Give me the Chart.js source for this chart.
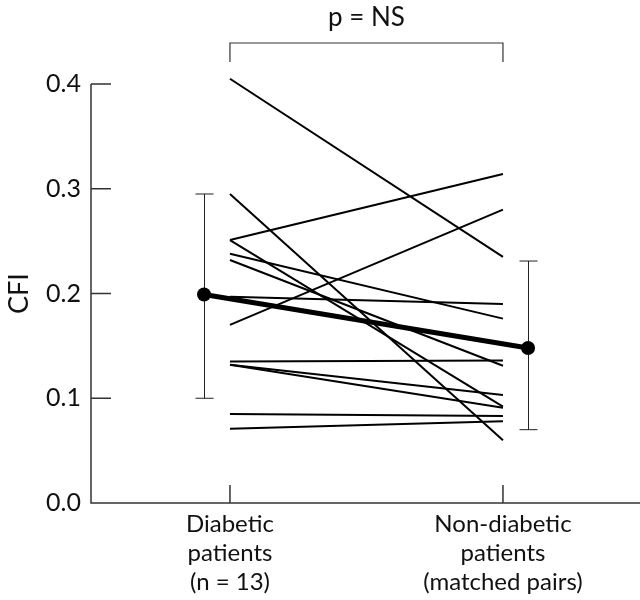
<!DOCTYPE html>
<html lang="en">
<head>
    <meta charset="UTF-8">
    <title>CFI diabetic vs non-diabetic</title>
    <script src="https://cdn.jsdelivr.net/npm/chart.js"></script>
    <style>
        body { margin: 0; background: #fff; }
        canvas { display: block; }
    </style>
</head>
<body>
    <canvas id="cfiChart" width="640" height="600"></canvas>

    <script>
        // values, one pair per patient
        const groupLabels = [["Diabetic", "patients", "(n = 13)"], ["Non-diabetic", "patients", "(matched pairs)"]];
        const diabeticCFI    = [0.405, 0.295, 0.251, 0.251, 0.238, 0.232, 0.197, 0.170, 0.135, 0.132, 0.132, 0.085, 0.071];
        const nonDiabeticCFI = [0.235, 0.060, 0.314, 0.092, 0.176, 0.131, 0.190, 0.280, 0.136, 0.103, 0.091, 0.083, 0.078];
        const meanCFI = [0.199, 0.148];
        const sdLow   = [0.100, 0.070];
        const sdHigh  = [0.295, 0.231];
        const yTicks  = [0.0, 0.1, 0.2, 0.3, 0.4];
        const groupX  = [0, 1];
        const meanX   = [-0.095, 1.092];
        const pLabel  = "p = NS";

        const FONT = "Lato, 'DejaVu Sans', sans-serif";

        const datasets = diabeticCFI.map((v, i) => ({
            data: [{ x: groupX[0], y: v }, { x: groupX[1], y: nonDiabeticCFI[i] }],
            borderColor: "#000",
            borderWidth: 2,
            pointRadius: 0,
            clip: false
        }));

        datasets.push({
            data: [{ x: meanX[0], y: meanCFI[0] }, { x: meanX[1], y: meanCFI[1] }],
            borderColor: "#000",
            backgroundColor: "#000",
            borderWidth: 5,
            pointRadius: 7,
            pointBorderWidth: 0,
            clip: false
        });

        // axes, ticks, error bars and text drawn with the chart's scales
        const decorations = {
            id: "decorations",
            beforeDatasetsDraw(chart) {
                const { ctx, scales: { x, y } } = chart;
                ctx.save();
                ctx.strokeStyle = "#222";
                ctx.lineWidth = 1;
                meanX.forEach((mx, i) => {
                    const px = Math.round(x.getPixelForValue(mx)) + 0.5;
                    const top = y.getPixelForValue(sdHigh[i]);
                    const bot = y.getPixelForValue(sdLow[i]);
                    ctx.beginPath();
                    ctx.moveTo(px, top); ctx.lineTo(px, bot);
                    ctx.moveTo(px - 9, top); ctx.lineTo(px + 9, top);
                    ctx.moveTo(px - 9, bot); ctx.lineTo(px + 9, bot);
                    ctx.stroke();
                });
                ctx.restore();
            },
            afterDraw(chart) {
                const { ctx, chartArea, scales: { x, y } } = chart;
                const x0 = chartArea.left;
                const y0 = y.getPixelForValue(0);
                ctx.save();
                ctx.strokeStyle = "#333";
                ctx.lineWidth = 1.5;
                ctx.beginPath();
                ctx.moveTo(x0, y.getPixelForValue(yTicks[yTicks.length - 1]));
                ctx.lineTo(x0, y0);
                ctx.lineTo(chart.width, y0);
                yTicks.forEach(t => {
                    const py = y.getPixelForValue(t);
                    ctx.moveTo(x0, py); ctx.lineTo(x0 + 20, py);
                });
                groupX.forEach(g => {
                    const px = x.getPixelForValue(g);
                    ctx.moveTo(px, y0); ctx.lineTo(px, y0 - 18);
                });
                ctx.stroke();

                // bracket for the comparison
                const bx1 = x.getPixelForValue(groupX[0]);
                const bx2 = x.getPixelForValue(groupX[1]);
                ctx.lineWidth = 1.2;
                ctx.beginPath();
                ctx.moveTo(bx1, 62); ctx.lineTo(bx1, 43); ctx.lineTo(bx2, 43); ctx.lineTo(bx2, 62);
                ctx.stroke();

                ctx.fillStyle = "#111";
                ctx.font = "26px " + FONT;
                ctx.textAlign = "center";
                ctx.textBaseline = "middle";
                ctx.fillText(pLabel, (bx1 + bx2) / 2, 18);

                ctx.font = "25px " + FONT;
                ctx.textAlign = "right";
                yTicks.forEach(t => {
                    ctx.fillText(t.toFixed(1), x0 - 10, y.getPixelForValue(t));
                });

                ctx.textAlign = "center";
                ctx.font = "24px " + FONT;
                groupLabels.forEach((lines, i) => {
                    const px = x.getPixelForValue(groupX[i]);
                    lines.forEach((s, j) => ctx.fillText(s, px, 524 + j * 29));
                });

                ctx.font = "27px " + FONT;
                ctx.translate(19, y.getPixelForValue(0.2));
                ctx.rotate(-Math.PI / 2);
                ctx.fillText("CFI", 0, 0);
                ctx.restore();
            }
        };

        new Chart(document.getElementById("cfiChart"), {
            type: "line",
            data: { datasets },
            options: {
                responsive: false,
                animation: false,
                layout: { padding: { left: 91, right: 9, top: 84, bottom: 97 } },
                plugins: { legend: { display: false }, tooltip: { enabled: false } },
                scales: {
                    x: { type: "linear", min: -0.509, max: 1.469, display: false },
                    y: { min: 0, max: 0.4, display: false }
                }
            },
            plugins: [decorations]
        });
    </script>
</body>
</html>
